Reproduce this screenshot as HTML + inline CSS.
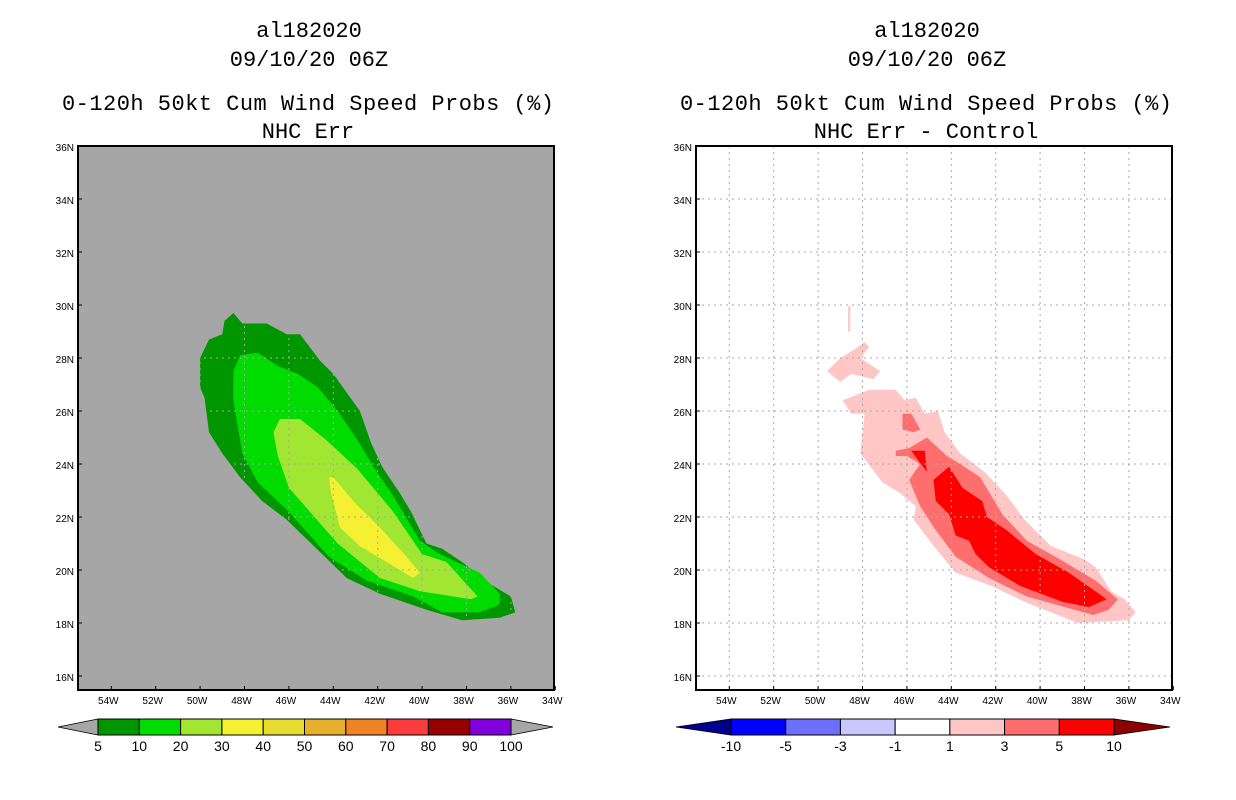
<!DOCTYPE html>
<html><head><meta charset="utf-8"><style>
html,body{margin:0;padding:0;background:#fff;}
svg{display:block;}
text{font-family:"Liberation Sans",sans-serif;}
.t{font-family:"Liberation Mono",monospace;font-size:22px;fill:#000;}
.tk{font-size:10px;fill:#000;}
.cb{font-size:14px;fill:#000;}
</style></head><body>
<svg id="s" width="1236" height="800" xmlns="http://www.w3.org/2000/svg"></svg>
<script>
// ---- data ----
const lonTicks=[54,52,50,48,46,44,42,40,38,36,34];
const latTicks=[36,34,32,30,28,26,24,22,20,18,16];
const probLevels=["5","10","20","30","40","50","60","70","80","90","100"];
const probColors=["#009600","#00dc00","#a0e632","#f5f032","#e6dc32","#e6af2d","#f08228","#fa3c3c","#960000","#8200dc"];
const diffLevels=["-10","-5","-3","-1","1","3","5","10"];
const diffColors=["#0000ff","#6e6eff","#c8c8ff","#ffffff","#ffc6c6","#ff6e6e","#ff0000"];
// contour polygons [lonW, latN]
const p5=[[48.5,29.7],[48.1,29.3],[47.0,29.3],[46.1,28.9],[45.5,28.9],[44.6,27.9],[44.0,27.4],[42.8,26.0],[42.3,24.8],[41.8,23.9],[41.0,22.9],[40.5,22.2],[39.8,21.0],[39.1,20.8],[38.2,20.3],[37.0,19.5],[36.0,19.0],[35.8,18.4],[36.5,18.2],[38.2,18.1],[39.8,18.5],[41.9,19.1],[43.4,19.7],[44.5,20.6],[46.1,21.9],[47.2,22.6],[48.2,23.5],[49.0,24.4],[49.6,25.2],[49.8,26.5],[50.0,26.9],[50.0,28.0],[49.6,28.7],[49.0,28.9],[48.9,29.4]];
const p10=[[48.2,28.1],[47.4,28.2],[46.5,27.7],[45.6,27.4],[44.7,26.9],[43.8,26.0],[42.9,24.9],[42.2,23.9],[41.3,22.8],[40.1,21.1],[39.2,20.6],[37.4,19.9],[36.5,19.1],[36.5,18.7],[37.4,18.4],[39.1,18.4],[40.4,19.0],[42.5,19.6],[44.2,20.5],[46.0,22.2],[47.4,23.3],[48.1,24.4],[48.5,26.4],[48.5,27.5]];
const p20=[[46.4,25.7],[45.5,25.7],[44.3,24.9],[42.9,23.8],[41.3,22.2],[40.0,20.6],[38.9,20.3],[37.5,19.0],[37.8,18.9],[40.1,19.2],[41.9,19.7],[43.8,21.0],[46.0,23.1],[46.5,24.3],[46.7,25.2]];
const p30=[[44.2,23.5],[44.0,23.5],[43.1,22.6],[41.9,21.6],[40.7,20.5],[40.1,19.9],[40.4,19.7],[41.6,20.3],[42.8,20.9],[43.7,21.6],[44.1,22.9]];
const d1a=[[48.9,26.4],[47.7,26.8],[46.5,26.8],[46.1,26.4],[45.6,26.5],[45.2,25.9],[44.6,26.0],[44.3,25.2],[43.6,24.4],[42.5,23.7],[41.5,22.8],[40.7,21.9],[39.5,20.9],[38.0,20.4],[37.5,20.1],[36.8,19.2],[36.2,18.9],[35.7,18.4],[36.0,18.1],[38.3,18.0],[40.7,18.8],[42.2,19.4],[43.8,19.9],[44.7,20.8],[45.7,21.9],[45.6,22.4],[46.3,22.9],[47.1,23.3],[48.1,24.4],[47.9,25.9],[48.5,25.9]];
const d1b=[[49.6,27.5],[49.0,28.0],[48.4,28.3],[47.9,28.6],[47.7,28.4],[48.1,28.0],[47.2,27.5],[47.5,27.2],[48.5,27.4],[49.0,27.1]];
const d1c=[[48.65,29.95],[48.55,29.95],[48.55,29.0],[48.65,29.0]];
const d3a=[[46.5,24.5],[45.9,24.6],[45.1,25.0],[44.2,24.3],[43.6,24.0],[42.7,23.5],[41.7,22.1],[40.6,21.1],[39.1,20.4],[37.5,19.6],[36.5,18.9],[36.9,18.5],[37.6,18.3],[40.6,19.0],[42.3,19.7],[43.8,20.5],[44.7,21.5],[45.4,22.4],[45.9,23.4],[45.4,24.0],[46.0,24.3],[46.5,24.3]];
const d3b=[[46.2,25.9],[45.8,25.9],[45.4,25.3],[45.7,25.2],[46.2,25.3]];
const d5a=[[44.8,23.4],[44.1,23.9],[43.5,23.1],[42.6,22.6],[42.4,22.0],[41.5,21.5],[40.2,20.6],[38.7,19.9],[37.0,18.9],[37.8,18.6],[39.0,18.8],[40.9,19.4],[42.3,20.1],[42.9,20.6],[43.2,21.1],[43.8,21.3],[44.1,22.1],[44.7,22.6]];
const d5b=[[45.8,24.5],[45.2,24.5],[45.1,23.7]];

const NS="http://www.w3.org/2000/svg";
const svg=document.getElementById('s');
function mk(tag,at,parent){const e=document.createElementNS(NS,tag);for(const k in at)e.setAttribute(k,at[k]);(parent||svg).appendChild(e);return e;}
const PX0=78,PW=476,PY0=146,PH=544;
function xs(lon,off){return off+PX0+(55.5-lon)*22.2;}
function ys(lat){return PY0+(36-lat)*26.5;}
function pts(poly,off){return poly.map(p=>xs(p[0],off).toFixed(1)+','+ys(p[1]).toFixed(1)).join(' ');}
function txt(x,y,s,cls,anchor,parent){const t=mk('text',{x:x,y:y,'class':cls,'text-anchor':anchor||'middle'},parent);t.textContent=s;return t;}

function panel(off,title2,isLeft){
  const cx=off+PX0+PW/2-8;
  let t;
  t=txt(cx+1,37,"al182020","t");
  
  t=txt(cx+1,66,"09/10/20 06Z","t");
  
  t=txt(cx,110,"0-120h 50kt Cum Wind Speed Probs (%)","t");
  t.setAttribute('textLength','492');
  
  t=txt(cx,138,title2,"t");
  
  const g=mk('g',{});
  
  
  const bg=mk('rect',{x:off+PX0,y:PY0,width:PW,height:PH,fill:isLeft?'#a6a6a6':'#ffffff'},g);
  
  const polys=isLeft?[[p5,probColors[0]],[p10,probColors[1]],[p20,probColors[2]],[p30,probColors[3]]]
    :[[d1a,diffColors[4]],[d1b,diffColors[4]],[d1c,diffColors[4]],[d3a,diffColors[5]],[d3b,diffColors[5]],[d5a,diffColors[6]],[d5b,diffColors[6]]];
  polys.forEach(([p,c],i)=>{const e=mk('polygon',{points:pts(p,off),fill:c},g);
    });
  let gg=mk('g',{stroke:'#a8a8a8','stroke-width':1,'stroke-dasharray':'2,4'},g);
  
  if(isLeft){
    const cp=mk('clipPath',{id:'clipL'},svg);mk('polygon',{points:pts(p5,off)},cp);
    gg.setAttribute('clip-path','url(#clipL)');
  }
  lonTicks.slice(0,-1).forEach(l=>{const x=xs(l,off);const e=mk('line',{x1:x,x2:x,y1:PY0,y2:PY0+PH},gg);
    });
  latTicks.slice(1).forEach(l=>{const y=ys(l);const e=mk('line',{x1:off+PX0,x2:off+PX0+PW,y1:y,y2:y},gg);
    });
  const fr=mk('rect',{x:off+PX0,y:PY0,width:PW,height:PH,fill:'none',stroke:'#000','stroke-width':2});
  
  lonTicks.forEach(l=>{const x=xs(l,off);mk('line',{x1:x,x2:x,y1:PY0+PH,y2:PY0+PH-4,stroke:'#000'});
    const e=txt(x-3,PY0+PH+14,l+"W","tk");});
  latTicks.forEach(l=>{const y=ys(l);mk('line',{x1:off+PX0,x2:off+PX0+4,y1:y,y2:y,stroke:'#000'});
    const e=txt(off+PX0-4,y+5,l+"N","tk","end");});
}
panel(0,"NHC Err",true);
panel(618,"NHC Err - Control",false);

function colorbar(x0,x1,tl,tr,colors,levels,leftTri,rightTri,name){
  const g=mk('g',{});
  
  const y0=719,y1=735,ym=727,n=colors.length,w=(x1-x0)/n;
  mk('polygon',{points:`${tl},${ym} ${x0},${y0} ${x0},${y1}`,fill:leftTri,stroke:'#000','stroke-width':0.8},g);
  mk('polygon',{points:`${tr},${ym} ${x1},${y0} ${x1},${y1}`,fill:rightTri,stroke:'#000','stroke-width':0.8},g);
  colors.forEach((c,i)=>{const r=mk('rect',{x:x0+i*w,y:y0,width:w,height:y1-y0,fill:c,stroke:'#000','stroke-width':1},g);
    });
  levels.forEach((s,i)=>{const e=txt(x0+i*w,751,s,"cb","middle",g);
    });
}
colorbar(98,511,58,553,probColors,probLevels,'#a6a6a6','#a6a6a6','prob-colorbar');
colorbar(731,1114,676,1170,diffColors,diffLevels,'#00008c','#8c0000','diff-colorbar');
</script>
</body></html>
